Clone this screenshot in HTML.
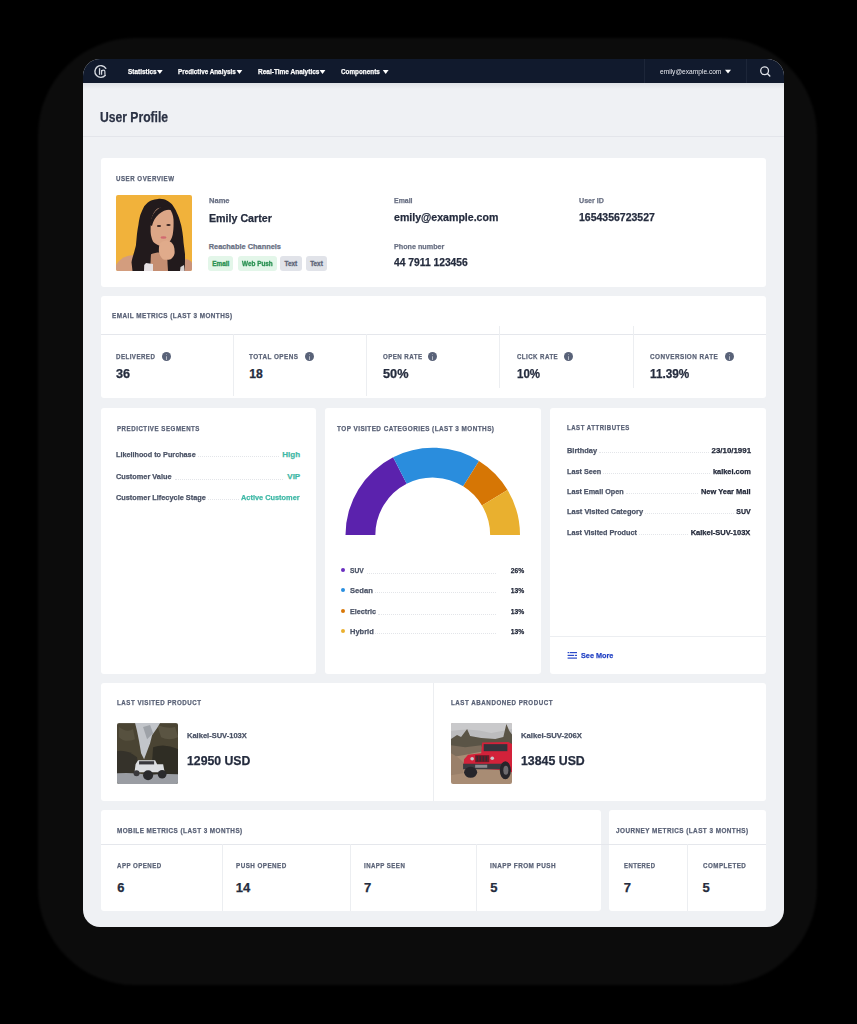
<!DOCTYPE html>
<html><head><meta charset="utf-8"><title>User Profile</title>
<style>
html,body{margin:0;padding:0;}
body{width:857px;height:1024px;overflow:hidden;background:#000;position:relative;font-family:"Liberation Sans",sans-serif;}
.abs{position:absolute;}
.t{position:absolute;white-space:nowrap;line-height:1;font-family:"Liberation Sans",sans-serif;-webkit-text-stroke:0.25px currentColor;}
.shadow{position:absolute;left:38px;top:38px;width:779px;height:947px;border-radius:97px;background:#0c0c0c;filter:blur(1.2px);}
.device{position:absolute;left:83px;top:59px;width:701px;height:868px;border-radius:17px;background:#eff1f4;overflow:hidden;}
.nav{position:absolute;left:83px;top:59px;width:701px;height:24.4px;background:#111a2d;border-radius:17px 17px 0 0;}
.card{position:absolute;background:#fff;border-radius:3px;}
.hl{position:absolute;height:1px;background:#e5e7ec;}
.vl{position:absolute;width:1px;background:#eceef1;}
.badge{position:absolute;top:256.2px;height:14.6px;border-radius:3px;font-size:6.4px;font-weight:700;line-height:16.2px;-webkit-text-stroke:0.3px currentColor;text-align:center;white-space:nowrap;}
.info{position:absolute;width:9.4px;height:9.4px;border-radius:50%;background:#596278;margin-top:0.2px;}
.info:before{content:"";position:absolute;left:4px;top:1.8px;width:1.4px;height:1.3px;background:#b4b9c4;border-radius:50%;}
.info:after{content:"";position:absolute;left:4px;top:4px;width:1.4px;height:3.6px;background:#b4b9c4;border-radius:0.5px;}
.lead{position:absolute;height:0;border-top:1px dotted #e3e5e9;}
.dot{position:absolute;width:4.4px;height:4.4px;border-radius:50%;margin:-0.2px 0 0 -0.2px;}
</style></head><body>
<div class="shadow"></div>
<div class="device"></div>
<div class="abs" style="left:83px;top:83px;width:701px;height:6px;background:linear-gradient(#dfe2e6,#eff1f4)"></div>
<div class="nav"></div>
<!-- nav dividers -->
<div class="abs" style="left:644px;top:59px;width:1px;height:24px;background:#1d2639"></div>
<div class="abs" style="left:746px;top:59px;width:1px;height:24px;background:#1d2639"></div>
<!-- logo -->
<svg class="abs" style="left:90px;top:60px" width="24" height="24" viewBox="0 0 24 24">
  <path d="M15.80 8.37 A5.9 5.9 0 1 0 15.32 15.29" fill="none" stroke="#d3d7de" stroke-width="1.4" stroke-linecap="round"/>
  <rect x="8.9" y="8.2" width="1.3" height="6.6" fill="#d3d7de"/>
  <path d="M11.6 14.8 V10.1 M11.6 11.3 Q12.4 10.1 13.6 10.1 Q14.9 10.1 14.9 11.8 V14.8" fill="none" stroke="#d3d7de" stroke-width="1.2"/>
</svg>
<!-- nav triangles -->
<svg class="abs" style="left:0;top:0" width="857" height="90">
  <path d="M156.9 70 H162.7 L159.8 73.9 Z" fill="#fff"/>
  <path d="M236.5 70 H242.3 L239.4 73.9 Z" fill="#fff"/>
  <path d="M319.6 70 H325.4 L322.5 73.9 Z" fill="#fff"/>
  <path d="M382.8 70 H388.6 L385.7 73.9 Z" fill="#fff"/>
  <path d="M725 69.8 H731 L728 73.6 Z" fill="#fff"/>
  <circle cx="764.6" cy="70.8" r="3.9" fill="none" stroke="#e1e4ea" stroke-width="1.3"/>
  <path d="M767.4 73.6 L769.8 75.9" stroke="#e1e4ea" stroke-width="1.4" stroke-linecap="round"/>
</svg>
<!-- header separator -->
<div class="hl" style="left:83px;top:135.5px;width:701px;background:#e3e5ea"></div>

<!-- cards -->
<div class="card" style="left:100.5px;top:158px;width:665.5px;height:129px"></div>
<div class="card" style="left:100.5px;top:296px;width:665.5px;height:102px"></div>
<div class="card" style="left:100.5px;top:407.7px;width:215.5px;height:266px"></div>
<div class="card" style="left:325px;top:407.7px;width:216px;height:266px"></div>
<div class="card" style="left:550px;top:407.7px;width:216px;height:266px"></div>
<div class="card" style="left:100.5px;top:683px;width:665.5px;height:118px"></div>
<div class="card" style="left:100.5px;top:810px;width:500px;height:101px"></div>
<div class="card" style="left:608.7px;top:810px;width:157.3px;height:101px"></div>

<!-- email metrics lines -->
<div class="hl" style="left:100.5px;top:334px;width:665.5px"></div>
<div class="vl" style="left:233px;top:334px;height:62px"></div>
<div class="vl" style="left:366.2px;top:334px;height:62px"></div>
<div class="vl" style="left:499px;top:326px;height:62px"></div>
<div class="vl" style="left:632.6px;top:326px;height:62px"></div>
<div class="info" style="left:161.5px;top:351.8px"></div>
<div class="info" style="left:304.9px;top:351.8px"></div>
<div class="info" style="left:427.9px;top:351.8px"></div>
<div class="info" style="left:564px;top:351.8px"></div>
<div class="info" style="left:724.5px;top:351.8px"></div>

<!-- photo -->
<svg class="abs" style="left:116px;top:194.5px;border-radius:2px" width="76" height="76" viewBox="0 0 76 76">
  <rect width="76" height="76" fill="#f1b23b"/>
  <path d="M0 70 Q6 60 18 60 L20 76 H0 Z" fill="#d39d7e"/>
  <path d="M68 64 Q74 64 76 68 V76 H68 Z" fill="#c9937b"/>
  <path d="M42 3.9 C46 3.5 49 4.5 50.8 5.4 C54 7 55.5 8.5 56.7 10.3 C58.5 13 59.8 15 60.6 17.2 C62.5 21 63.5 24 64.5 27.9 C65.5 31 66 34 66.5 37.7 C67 41 67.3 44 67.5 47.5 C68 51 68.5 55 68.9 58.3 C69.2 62 69 66 68.9 70 L68.4 76 H16.5 L15.5 67.2 C16 64 16.8 62 17.5 59.3 C18.5 56 19.3 53 19.9 50.5 C20.3 47 20.6 43 20.9 39.7 C21.3 36 21.8 33 22.4 29.9 C23 26 23.5 23 24.3 20.1 C25.5 17 26.8 14 28.2 11.3 C30.5 8.5 32.5 6.5 35.1 5.4 C37.5 4.5 40 4 42 3.9 Z" fill="#221a1c"/>
  <path d="M35 59.3 C40 57 47 57 51 59 L52 76 H34 Z" fill="#c58e72"/>
  <path d="M28.2 70 L30 68 L37 69 L37 76 H28 Z" fill="#e6e0e2"/>
  <path d="M64.5 72 L68 70 L68.4 76 H64 Z" fill="#d9d4d6"/>
  <path d="M42 13.2 C46 12 50 11.8 54.7 15.2 C57 19 57.8 23 57.6 27.9 C57.6 33 57.3 36 56.7 39.7 C55.8 43 55 45 53.7 46.6 C50 49.5 46 51 42.9 50.5 C40 49.5 38 48 37 46.6 C35.5 43 34.8 40 34.6 36.8 C34.6 32 34.8 28 35.1 25 C36.5 19 39 15 42 13.2 Z" fill="#dca687"/>
  <path d="M34 30 C35 18 42 11 52 10.5 C56 11 58 13 58.5 16 C54 13.5 48 14.5 43 19 C39.5 22 37 26 36 31 Z" fill="#221a1c"/>
  <path d="M43.9 48.5 C46 46.5 48.5 45.6 50.8 45.6 C54 46 56.5 48 57.6 50.5 C58.5 53 58.8 55.5 58.6 58.3 C58 61 56.5 63 54.7 64.2 C52 65 49 65 46.9 64.2 C44.5 62 43.3 59 42.9 56.4 C42.8 53 43 50.5 43.9 48.5 Z" fill="#e0ab8b"/>
  <ellipse cx="43" cy="31" rx="2.2" ry="0.9" fill="#3a2522"/>
  <ellipse cx="52.5" cy="30" rx="2.2" ry="0.9" fill="#3a2522"/>
  <ellipse cx="47.5" cy="42.5" rx="3" ry="1.2" fill="#d16a70"/>
</svg>

<!-- predictive leaders -->
<div class="lead" style="left:198px;width:81px;top:456px"></div>
<div class="lead" style="left:175px;width:108px;top:478.6px"></div>
<div class="lead" style="left:208px;width:31px;top:499.2px"></div>

<!-- donut -->
<svg class="abs" style="left:325px;top:430px" width="216" height="120" viewBox="325 430 216 120">
  <path d='M345.50 535.00 A87.25 87.25 0 0 1 393.14 457.26 L406.69 483.86 A57.4 57.4 0 0 0 375.35 535.00 Z' fill='#5b22ad'/>
<path d='M393.14 457.26 A87.25 87.25 0 0 1 478.99 461.01 L463.17 486.32 A57.4 57.4 0 0 0 406.69 483.86 Z' fill='#2a8ddd'/>
<path d='M478.99 461.01 A87.25 87.25 0 0 1 507.54 490.06 L481.95 505.44 A57.4 57.4 0 0 0 463.17 486.32 Z' fill='#d67605'/>
<path d='M507.54 490.06 A87.25 87.25 0 0 1 520.00 535.00 L490.15 535.00 A57.4 57.4 0 0 0 481.95 505.44 Z' fill='#e9b02f'/>
</svg>

<!-- legend -->
<div class="dot" style="left:340.8px;top:568px;background:#6a2fc0"></div>
<div class="dot" style="left:340.8px;top:587.7px;background:#2a8fe0"></div>
<div class="dot" style="left:340.8px;top:609.1px;background:#d97808"></div>
<div class="dot" style="left:340.8px;top:628.7px;background:#eab030"></div>
<div class="lead" style="left:367px;width:129px;top:572.5px"></div>
<div class="lead" style="left:375px;width:121px;top:592.2px"></div>
<div class="lead" style="left:378px;width:118px;top:613.6px"></div>
<div class="lead" style="left:375px;width:121px;top:633.2px"></div>

<!-- attribute leaders -->
<div class="lead" style="left:599px;width:110px;top:452.3px"></div>
<div class="lead" style="left:603px;width:107px;top:473px"></div>
<div class="lead" style="left:626px;width:72px;top:493.2px"></div>
<div class="lead" style="left:645px;width:89px;top:513.4px"></div>
<div class="lead" style="left:639px;width:49px;top:533.9px"></div>
<div class="hl" style="left:550px;top:636px;width:216px;background:#eceef1"></div>
<svg class="abs" style="left:567px;top:651px" width="12" height="9" viewBox="0 0 12 9">
  <rect x="0.6" y="1" width="1.6" height="1.2" fill="#2a49c8"/><rect x="2.8" y="1" width="7.2" height="1.2" fill="#2a49c8"/>
  <rect x="0.6" y="3.8" width="6.4" height="1.2" fill="#2a49c8"/><rect x="7.8" y="3.8" width="2.2" height="1.2" fill="#2a49c8"/>
  <rect x="0.6" y="6.5" width="9.4" height="1.2" fill="#2a49c8"/>
</svg>

<!-- products -->
<div class="vl" style="left:432.5px;top:683px;height:118px"></div>
<svg class="abs" style="left:117.2px;top:723px;border-radius:2px" width="61.2" height="61.4" viewBox="0 0 61 61">
  <rect width="61" height="61" fill="#4a4433"/>
  <path d="M0 28 Q10 26 20 34 L22 52 H0 Z" fill="#35322a"/>
  <path d="M36 24 Q48 20 61 26 V52 H34 Z" fill="#2f2d24"/>
  <path d="M40 2 Q50 6 58 4 L61 14 Q52 18 44 14 Z" fill="#5a5442"/>
  <path d="M2 4 Q10 10 16 6 L18 16 Q8 20 2 14 Z" fill="#57513f"/>
  <path d="M18 0 H43 L40 5 L35 12 L33 20 L30 28 L27 36 L24 30 L22 18 L20 8 Z" fill="#c2c5ca"/>
  <path d="M26 4 L33 2 L36 10 L30 16 Z" fill="#9ea2a8"/>
  <path d="M0 50 Q20 49 30 52 Q45 50 61 51 V61 H0 Z" fill="#9a9da3"/>
  <path d="M21 37 H38 L40 41 H46 L47.5 49 H17.5 L18.5 41 Z" fill="#dcdee1"/>
  <rect x="22" y="38" width="15" height="3.2" fill="#38383c"/>
  <circle cx="31" cy="52" r="5" fill="#2a2a2c"/>
  <circle cx="45" cy="51" r="4.3" fill="#2a2a2c"/>
  <circle cx="19.5" cy="50" r="3" fill="#3a393c"/>
</svg>
<svg class="abs" style="left:451px;top:723px;border-radius:2px" width="61.4" height="61.4" viewBox="0 0 61 61">
  <rect width="61" height="61" fill="#a88c74"/>
  <rect width="61" height="17" fill="#bcbcbe"/>
  <path d="M0 8 Q20 4 40 10 L61 6 V0 H0 Z" fill="#c9c9cb"/>
  <path d="M0 16 L6 12 L10 14 L16 6 L19 13 L30 15 L44 16 L52 14 L55 1 L58 8 L61 12 V28 L40 24 L20 26 L0 30 Z" fill="#5a5446"/>
  <path d="M0 22 L14 24 L30 22 L32 28 L12 32 L0 34 Z" fill="#7c6d5c"/>
  <path d="M0 30 Q8 34 13 40 L12 50 L0 52 Z" fill="#9a806a"/>
  <path d="M13 36 L17 31.5 L30 30 L31 19.5 L57 19 L61 21 V49 L53 47 L22 45 L12.5 41 Z" fill="#d3223a"/>
  <rect x="32.5" y="21" width="23.5" height="7" fill="#34343c"/>
  <rect x="24" y="32" width="14" height="7" fill="#6b1a26"/>
  <rect x="25.5" y="33" width="1.2" height="5" fill="#2e2e34"/><rect x="28.5" y="33" width="1.2" height="5" fill="#2e2e34"/><rect x="31.5" y="33" width="1.2" height="5" fill="#2e2e34"/><rect x="34.5" y="33" width="1.2" height="5" fill="#2e2e34"/>
  <circle cx="21" cy="35.5" r="1.8" fill="#c8c8cc"/><circle cx="41" cy="35" r="1.8" fill="#c8c8cc"/>
  <path d="M12 40.5 H52 V46 H12 Z" fill="#3a3a40"/>
  <rect x="24" y="41.5" width="12" height="3" fill="#8b8b90"/>
  <ellipse cx="19.5" cy="49" rx="6.5" ry="5.5" fill="#26252a"/>
  <ellipse cx="54" cy="47" rx="5.5" ry="9" fill="#26252a"/>
  <ellipse cx="54.5" cy="47" rx="2.5" ry="4.5" fill="#6c6a6e"/>
</svg>

<!-- mobile lines -->
<div class="hl" style="left:100.5px;top:844px;width:665.5px"></div>
<div class="vl" style="left:222px;top:844px;height:67px"></div>
<div class="vl" style="left:350px;top:844px;height:67px"></div>
<div class="vl" style="left:476px;top:844px;height:67px"></div>
<div class="vl" style="left:687px;top:844px;height:67px"></div>

<div class='badge' style='left:208.2px;width:25.3px;background:#e3f6e9;color:#2a9152'><span style='display:inline-block;transform:scaleX(1.000)'>Email</span></div>
<div class='badge' style='left:237.9px;width:38.9px;background:#e3f6e9;color:#2a9152'><span style='display:inline-block;transform:scaleX(0.997)'>Web Push</span></div>
<div class='badge' style='left:280px;width:21.6px;background:#e1e3e9;color:#5e6578'><span style='display:inline-block;transform:scaleX(1.000)'>Text</span></div>
<div class='badge' style='left:305.9px;width:21.2px;background:#e1e3e9;color:#5e6578'><span style='display:inline-block;transform:scaleX(1.000)'>Text</span></div>
<div class='t' style='top:68px;font-size:7px;font-weight:700;color:#ffffff;left:127.60px;transform-origin:0 0;transform:scaleX(0.919);'>Statistics</div>
<div class='t' style='top:68px;font-size:7px;font-weight:700;color:#ffffff;left:178.40px;transform-origin:0 0;transform:scaleX(0.902);'>Predictive Analysis</div>
<div class='t' style='top:68px;font-size:7px;font-weight:700;color:#ffffff;left:258.40px;transform-origin:0 0;transform:scaleX(0.929);'>Real-Time Analytics</div>
<div class='t' style='top:68px;font-size:7px;font-weight:700;color:#ffffff;left:341.40px;transform-origin:0 0;transform:scaleX(0.907);'>Components</div>
<div class='t' style='top:68px;font-size:7.4px;font-weight:400;color:#e8eaf0;-webkit-text-stroke:0;left:660.00px;transform-origin:0 0;transform:scaleX(0.893);'>emily@example.com</div>
<div class='t' style='top:110px;font-size:14px;font-weight:700;color:#2b3244;left:99.60px;transform-origin:0 0;transform:scaleX(0.866);'>User Profile</div>
<div class='t' style='top:175px;font-size:7px;font-weight:700;color:#596176;letter-spacing:0.6px;left:116.00px;transform-origin:0 0;transform:scaleX(0.876);'>USER OVERVIEW</div>
<div class='t' style='top:197px;font-size:7.4px;font-weight:700;color:#6a7184;left:208.70px;transform-origin:0 0;transform:scaleX(1.020);'>Name</div>
<div class='t' style='top:197px;font-size:7.4px;font-weight:700;color:#6a7184;left:394.00px;transform-origin:0 0;transform:scaleX(0.940);'>Email</div>
<div class='t' style='top:197px;font-size:7.4px;font-weight:700;color:#6a7184;left:578.80px;transform-origin:0 0;transform:scaleX(0.962);'>User ID</div>
<div class='t' style='top:212px;font-size:11.6px;font-weight:700;color:#252c3e;left:208.70px;transform-origin:0 0;transform:scaleX(0.920);'>Emily Carter</div>
<div class='t' style='top:211px;font-size:11.6px;font-weight:700;color:#252c3e;left:394.00px;transform-origin:0 0;transform:scaleX(0.912);'>emily@example.com</div>
<div class='t' style='top:211px;font-size:11.6px;font-weight:700;color:#252c3e;left:578.80px;transform-origin:0 0;transform:scaleX(0.905);'>1654356723527</div>
<div class='t' style='top:243px;font-size:7.4px;font-weight:700;color:#6a7184;left:208.70px;transform-origin:0 0;'>Reachable Channels</div>
<div class='t' style='top:243px;font-size:7.4px;font-weight:700;color:#6a7184;left:394.00px;transform-origin:0 0;transform:scaleX(0.973);'>Phone number</div>
<div class='t' style='top:257px;font-size:11.2px;font-weight:700;color:#252c3e;left:394.00px;transform-origin:0 0;transform:scaleX(0.919);'>44 7911 123456</div>
<div class='t' style='top:312px;font-size:7px;font-weight:700;color:#596176;letter-spacing:0.5px;left:112.10px;transform-origin:0 0;transform:scaleX(0.909);'>EMAIL METRICS (LAST 3 MONTHS)</div>
<div class='t' style='top:353px;font-size:7px;font-weight:700;color:#5b6377;letter-spacing:0.5px;left:116.20px;transform-origin:0 0;transform:scaleX(0.882);'>DELIVERED</div>
<div class='t' style='top:368px;font-size:12.2px;font-weight:700;color:#252c3e;left:116.20px;transform-origin:0 0;transform:scaleX(1.043);'>36</div>
<div class='t' style='top:353px;font-size:7px;font-weight:700;color:#5b6377;letter-spacing:0.5px;left:249.20px;transform-origin:0 0;transform:scaleX(0.907);'>TOTAL OPENS</div>
<div class='t' style='top:368px;font-size:12.2px;font-weight:700;color:#252c3e;left:249.20px;transform-origin:0 0;'>18</div>
<div class='t' style='top:353px;font-size:7px;font-weight:700;color:#5b6377;letter-spacing:0.5px;left:383.20px;transform-origin:0 0;transform:scaleX(0.880);'>OPEN RATE</div>
<div class='t' style='top:368px;font-size:12.2px;font-weight:700;color:#252c3e;left:383.20px;transform-origin:0 0;transform:scaleX(1.044);'>50%</div>
<div class='t' style='top:353px;font-size:7px;font-weight:700;color:#5b6377;letter-spacing:0.5px;left:516.60px;transform-origin:0 0;transform:scaleX(0.877);'>CLICK RATE</div>
<div class='t' style='top:368px;font-size:12.2px;font-weight:700;color:#252c3e;left:516.60px;transform-origin:0 0;transform:scaleX(0.944);'>10%</div>
<div class='t' style='top:353px;font-size:7px;font-weight:700;color:#5b6377;letter-spacing:0.5px;left:649.70px;transform-origin:0 0;transform:scaleX(0.909);'>CONVERSION RATE</div>
<div class='t' style='top:368px;font-size:12.2px;font-weight:700;color:#252c3e;left:649.70px;transform-origin:0 0;transform:scaleX(0.966);'>11.39%</div>
<div class='t' style='top:425px;font-size:7px;font-weight:700;color:#596176;letter-spacing:0.6px;left:116.50px;transform-origin:0 0;transform:scaleX(0.877);'>PREDICTIVE SEGMENTS</div>
<div class='t' style='top:425px;font-size:7px;font-weight:700;color:#596176;letter-spacing:0.5px;left:336.90px;transform-origin:0 0;transform:scaleX(0.910);'>TOP VISITED CATEGORIES (LAST 3 MONTHS)</div>
<div class='t' style='top:424px;font-size:7px;font-weight:700;color:#596176;letter-spacing:0.6px;left:566.50px;transform-origin:0 0;transform:scaleX(0.864);'>LAST ATTRIBUTES</div>
<div class='t' style='top:451px;font-size:8px;font-weight:700;color:#4b5366;left:116.30px;transform-origin:0 0;transform:scaleX(0.905);'>Likelihood to Purchase</div>
<div class='t' style='top:451px;font-size:8px;font-weight:700;color:#3fb8a6;left:282.30px;transform-origin:18px 0;'>High</div>
<div class='t' style='top:473px;font-size:8px;font-weight:700;color:#4b5366;left:116.30px;transform-origin:0 0;transform:scaleX(0.918);'>Customer Value</div>
<div class='t' style='top:473px;font-size:8px;font-weight:700;color:#3fb8a6;left:287.30px;transform-origin:13px 0;'>VIP</div>
<div class='t' style='top:494px;font-size:8px;font-weight:700;color:#4b5366;left:116.30px;transform-origin:0 0;transform:scaleX(0.918);'>Customer Lifecycle Stage</div>
<div class='t' style='top:494px;font-size:8px;font-weight:700;color:#3fb8a6;left:236.30px;transform-origin:64px 0;transform:scaleX(0.922);'>Active Customer</div>
<div class='t' style='top:447px;font-size:7.6px;font-weight:700;color:#4b5366;left:566.50px;transform-origin:0 0;transform:scaleX(0.977);'>Birthday</div>
<div class='t' style='top:447px;font-size:7.6px;font-weight:700;color:#1f2536;left:712.80px;transform-origin:38px 0;transform:scaleX(1.037);'>23/10/1991</div>
<div class='t' style='top:468px;font-size:7.6px;font-weight:700;color:#4b5366;left:566.50px;transform-origin:0 0;transform:scaleX(0.953);'>Last Seen</div>
<div class='t' style='top:468px;font-size:7.6px;font-weight:700;color:#1f2536;left:711.80px;transform-origin:39px 0;transform:scaleX(0.977);'>kalkei.com</div>
<div class='t' style='top:488px;font-size:7.6px;font-weight:700;color:#4b5366;left:566.50px;transform-origin:0 0;transform:scaleX(0.952);'>Last Email Open</div>
<div class='t' style='top:488px;font-size:7.6px;font-weight:700;color:#1f2536;left:699.80px;transform-origin:51px 0;transform:scaleX(0.982);'>New Year Mail</div>
<div class='t' style='top:508px;font-size:7.6px;font-weight:700;color:#4b5366;left:566.50px;transform-origin:0 0;transform:scaleX(0.981);'>Last Visited Category</div>
<div class='t' style='top:508px;font-size:7.6px;font-weight:700;color:#1f2536;left:734.80px;transform-origin:16px 0;transform:scaleX(0.919);'>SUV</div>
<div class='t' style='top:529px;font-size:7.6px;font-weight:700;color:#4b5366;left:566.50px;transform-origin:0 0;transform:scaleX(0.953);'>Last Visited Product</div>
<div class='t' style='top:529px;font-size:7.6px;font-weight:700;color:#1f2536;left:689.80px;transform-origin:61px 0;transform:scaleX(0.989);'>Kalkei-SUV-103X</div>
<div class='t' style='top:567px;font-size:8px;font-weight:700;color:#4b5366;left:349.50px;transform-origin:0 0;transform:scaleX(0.835);'>SUV</div>
<div class='t' style='top:567px;font-size:7.6px;font-weight:700;color:#1f2536;left:508.80px;transform-origin:16px 0;transform:scaleX(0.887);'>26%</div>
<div class='t' style='top:587px;font-size:8px;font-weight:700;color:#4b5366;left:349.50px;transform-origin:0 0;transform:scaleX(0.950);'>Sedan</div>
<div class='t' style='top:587px;font-size:7.6px;font-weight:700;color:#1f2536;left:508.80px;transform-origin:16px 0;transform:scaleX(0.887);'>13%</div>
<div class='t' style='top:608px;font-size:8px;font-weight:700;color:#4b5366;left:349.50px;transform-origin:0 0;transform:scaleX(0.900);'>Electric</div>
<div class='t' style='top:608px;font-size:7.6px;font-weight:700;color:#1f2536;left:508.80px;transform-origin:16px 0;transform:scaleX(0.887);'>13%</div>
<div class='t' style='top:628px;font-size:8px;font-weight:700;color:#4b5366;left:349.50px;transform-origin:0 0;transform:scaleX(0.936);'>Hybrid</div>
<div class='t' style='top:628px;font-size:7.6px;font-weight:700;color:#1f2536;left:508.80px;transform-origin:16px 0;transform:scaleX(0.887);'>13%</div>
<div class='t' style='top:652px;font-size:8px;font-weight:700;color:#2443c4;left:580.70px;transform-origin:0 0;transform:scaleX(0.908);'>See More</div>
<div class='t' style='top:699px;font-size:7px;font-weight:700;color:#596176;letter-spacing:0.6px;left:117.10px;transform-origin:0 0;transform:scaleX(0.881);'>LAST VISITED PRODUCT</div>
<div class='t' style='top:699px;font-size:7px;font-weight:700;color:#596176;letter-spacing:0.6px;left:450.90px;transform-origin:0 0;transform:scaleX(0.886);'>LAST ABANDONED PRODUCT</div>
<div class='t' style='top:732px;font-size:7.6px;font-weight:700;color:#4b5366;left:186.80px;transform-origin:0 0;transform:scaleX(0.990);'>Kalkei-SUV-103X</div>
<div class='t' style='top:732px;font-size:7.6px;font-weight:700;color:#4b5366;left:520.60px;transform-origin:0 0;transform:scaleX(1.010);'>Kalkei-SUV-206X</div>
<div class='t' style='top:754px;font-size:13px;font-weight:700;color:#252c3e;left:186.80px;transform-origin:0 0;transform:scaleX(0.943);'>12950 USD</div>
<div class='t' style='top:754px;font-size:13px;font-weight:700;color:#252c3e;left:520.60px;transform-origin:0 0;transform:scaleX(0.949);'>13845 USD</div>
<div class='t' style='top:827px;font-size:7px;font-weight:700;color:#596176;letter-spacing:0.5px;left:117.10px;transform-origin:0 0;transform:scaleX(0.906);'>MOBILE METRICS (LAST 3 MONTHS)</div>
<div class='t' style='top:827px;font-size:7px;font-weight:700;color:#596176;letter-spacing:0.5px;left:616.40px;transform-origin:0 0;transform:scaleX(0.910);'>JOURNEY METRICS (LAST 3 MONTHS)</div>
<div class='t' style='top:862px;font-size:7px;font-weight:700;color:#5b6377;letter-spacing:0.5px;left:117.20px;transform-origin:0 0;transform:scaleX(0.878);'>APP OPENED</div>
<div class='t' style='top:881px;font-size:13px;font-weight:700;color:#252c3e;left:117.20px;transform-origin:0 0;'>6</div>
<div class='t' style='top:862px;font-size:7px;font-weight:700;color:#5b6377;letter-spacing:0.5px;left:235.80px;transform-origin:0 0;transform:scaleX(0.898);'>PUSH OPENED</div>
<div class='t' style='top:881px;font-size:13px;font-weight:700;color:#252c3e;left:235.80px;transform-origin:0 0;'>14</div>
<div class='t' style='top:862px;font-size:7px;font-weight:700;color:#5b6377;letter-spacing:0.5px;left:363.90px;transform-origin:0 0;transform:scaleX(0.872);'>INAPP SEEN</div>
<div class='t' style='top:881px;font-size:13px;font-weight:700;color:#252c3e;left:363.90px;transform-origin:0 0;'>7</div>
<div class='t' style='top:862px;font-size:7px;font-weight:700;color:#5b6377;letter-spacing:0.5px;left:490.20px;transform-origin:0 0;transform:scaleX(0.908);'>INAPP FROM PUSH</div>
<div class='t' style='top:881px;font-size:13px;font-weight:700;color:#252c3e;left:490.20px;transform-origin:0 0;'>5</div>
<div class='t' style='top:862px;font-size:7px;font-weight:700;color:#5b6377;letter-spacing:0.5px;left:623.70px;transform-origin:0 0;transform:scaleX(0.851);'>ENTERED</div>
<div class='t' style='top:881px;font-size:13px;font-weight:700;color:#252c3e;left:623.70px;transform-origin:0 0;'>7</div>
<div class='t' style='top:862px;font-size:7px;font-weight:700;color:#5b6377;letter-spacing:0.5px;left:702.60px;transform-origin:0 0;transform:scaleX(0.892);'>COMPLETED</div>
<div class='t' style='top:881px;font-size:13px;font-weight:700;color:#252c3e;left:702.60px;transform-origin:0 0;'>5</div>
</body></html>
